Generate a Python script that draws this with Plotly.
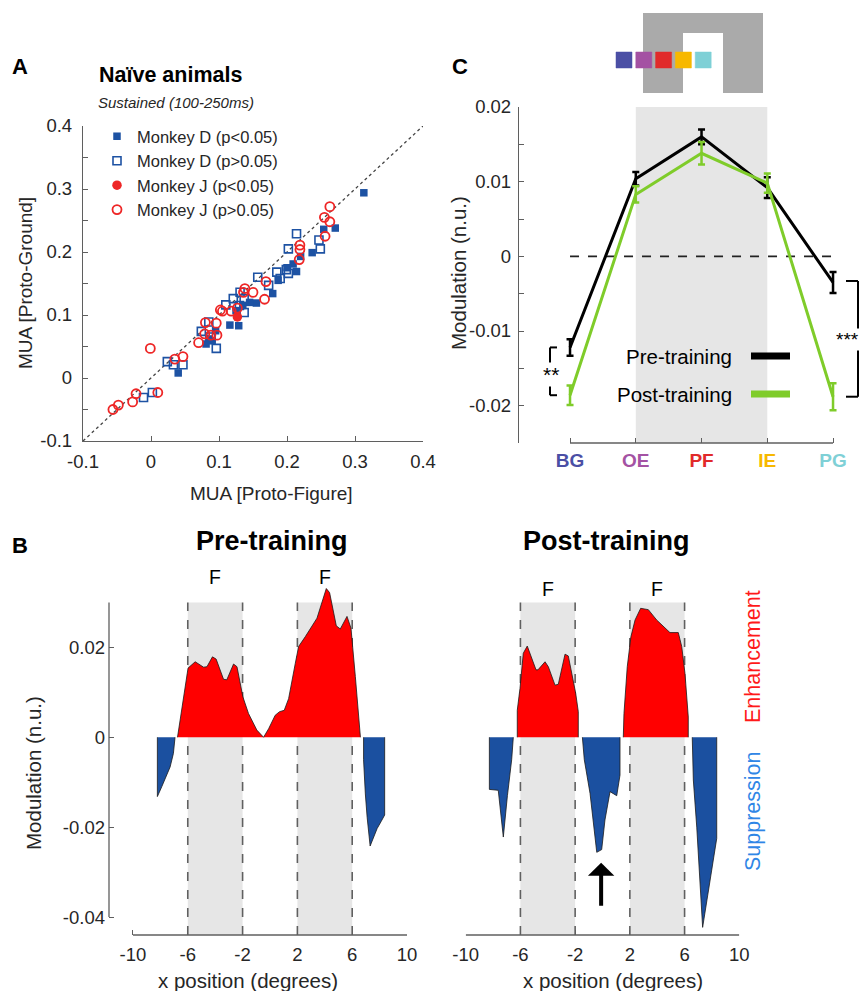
import plotly.graph_objects as go

# The page body has an 8px margin, so the figure is made smaller (no scrollbars)
# and all layout positions below (given in reference-image pixels) are shifted by it.
OFF = 8
W, H = 868 - 2 * OFF, 999 - 2 * OFF
FONT = "Arial, Liberation Sans, Helvetica, sans-serif"
TXT = "#262626"
AXC = "#5f5f5f"


def px(v):
    return (v - OFF) / W


def py(v):
    return 1 - (v - OFF) / H


# ---------------- Panel A : scatter ----------------
d_sig_x = [0.313, 0.254, 0.271, 0.237, 0.214, 0.209, 0.220, 0.200, 0.179, 0.187, 0.155, 0.145,
           0.135, 0.125, 0.116, 0.129, 0.081, 0.090, 0.095, 0.085, 0.040]
d_sig_y = [0.294, 0.236, 0.238, 0.199, 0.169, 0.181, 0.193, 0.175, 0.134, 0.155, 0.119, 0.120,
           0.115, 0.107, 0.084, 0.083, 0.054, 0.059, 0.075, 0.062, 0.008]
d_ns_x = [0.214, 0.247, 0.249, 0.202, 0.185, 0.199, 0.202, 0.190, 0.157, 0.173, 0.131, 0.121,
          0.110, 0.137, 0.130, 0.137, 0.074, 0.096, 0.085, 0.088, 0.024, 0.033, 0.047, -0.011, 0.002]
d_ns_y = [0.229, 0.219, 0.205, 0.205, 0.168, 0.172, 0.166, 0.158, 0.160, 0.147, 0.136, 0.126,
          0.116, 0.126, 0.115, 0.104, 0.074, 0.047, 0.089, 0.065, 0.026, 0.021, 0.021, -0.031, -0.023]
j_sig_x = [0.127]
j_sig_y = [0.097]
j_ns_x = [0.263, 0.255, 0.263, 0.256, 0.219, 0.219, 0.218, 0.169, 0.167, 0.150, 0.138, 0.136,
          0.127, 0.118, 0.102, 0.105, 0.080, 0.096, 0.079, 0.088, 0.097, 0.070, -0.001, 0.035,
          0.047, -0.022, 0.010, -0.027, -0.048, -0.056]
j_ns_y = [0.272, 0.255, 0.248, 0.225, 0.211, 0.204, 0.188, 0.153, 0.125, 0.136, 0.142, 0.136,
          0.111, 0.106, 0.108, 0.106, 0.088, 0.087, 0.070, 0.068, 0.068, 0.056, 0.047, 0.030,
          0.034, -0.025, -0.023, -0.038, -0.043, -0.050]
identity_line = [-0.1, 0.4]
a_ticks = [-0.1, 0, 0.1, 0.2, 0.3, 0.4]
a_ticktext = ["-0.1", "0", "0.1", "0.2", "0.3", "0.4"]

# ---------------- Panel C : modulation per position ----------------
positions = ["BG", "OE", "PF", "IE", "PG"]
position_idx = [1, 2, 3, 4, 5]
position_colors = ["#4b4fa5", "#a452a3", "#e12a2a", "#f7b800", "#7fd0d6"]
pre_mean = [-0.0122, 0.0104, 0.0160, 0.0092, -0.0035]
pre_err = [0.0011, 0.0009, 0.0010, 0.0014, 0.0014]
post_mean = [-0.0186, 0.0083, 0.0138, 0.0098, -0.0188]
post_err = [0.0013, 0.0011, 0.0015, 0.0013, 0.0018]
zero_line_x = [1, 5]
zero_line_y = [0, 0]
c_ticks = [-0.02, -0.01, 0, 0.01, 0.02]
c_ticktext = ["-0.02", "-0.01", "0", "0.01", "0.02"]

# ---------------- Panel B : modulation profiles ----------------
pre_enh_x = [-6.75, -6.64, -6.34, -5.98, -5.46, -4.85, -4.6, -4.2, -3.93, -3.39, -3.15, -2.66,
             -2.41, -1.98, -1.57, -0.96, -0.47, -0.1, 0.38, 0.7, 1.04, 1.36, 1.85, 2.09, 2.58,
             3.43, 4.11, 4.35, 4.84, 5.13, 5.62, 5.91, 6.23, 6.6]
pre_enh_y = [0, 0.0023, 0.0075, 0.0154, 0.0168, 0.0156, 0.0157, 0.0179, 0.0174, 0.0129, 0.0128,
             0.0163, 0.0157, 0.009, 0.0053, 0.0016, 0, 0.0019, 0.0049, 0.0057, 0.006, 0.0086,
             0.0165, 0.0202, 0.0224, 0.0265, 0.0331, 0.0322, 0.0248, 0.0241, 0.0269, 0.0243,
             0.0135, 0]
pre_sup1_x = [-8.22, -8.22, -7.9, -7.6, -7.29, -7.05, -6.93]
pre_sup1_y = [0, -0.0132, -0.011, -0.0088, -0.0066, -0.0036, 0]
pre_sup2_x = [6.83, 6.83, 6.96, 7.09, 7.31, 7.55, 7.82, 8.1, 8.37, 8.37]
pre_sup2_y = [0, -0.005, -0.0126, -0.0178, -0.0242, -0.0222, -0.0203, -0.0188, -0.0173, 0]

post_enh1_x = [-6.23, -6.23, -6.03, -5.79, -5.5, -4.86, -4.72, -4.2, -3.96, -3.47, -3.23, -2.74,
               -2.5, -1.96, -1.77, -1.77]
post_enh1_y = [0, 0.006, 0.0109, 0.0187, 0.0203, 0.015, 0.015, 0.0168, 0.0157, 0.0116, 0.0118,
               0.0185, 0.0181, 0.0098, 0.0057, 0]
post_enh2_x = [1.52, 1.57, 1.81, 2.08, 2.38, 2.79, 3.35, 3.96, 4.93, 5.54, 5.79, 6.03, 6.27, 6.27]
post_enh2_y = [0, 0.0053, 0.0157, 0.0224, 0.0261, 0.0287, 0.0284, 0.0261, 0.0233, 0.0233, 0.0202,
               0.0142, 0.0045, 0]
post_sup1_x = [-8.27, -8.27, -7.62, -7.25, -6.95, -6.64, -6.52]
post_sup1_y = [0, -0.0116, -0.0118, -0.0222, -0.013, -0.005, 0]
post_sup2_x = [-1.47, -1.33, -0.91, -0.42, -0.06, 0.18, 0.55, 1.04, 1.28, 1.28]
post_sup2_y = [0, -0.005, -0.0125, -0.0256, -0.025, -0.0184, -0.0121, -0.013, -0.0084, 0]
post_sup3_x = [6.56, 6.6, 6.64, 6.89, 7.32, 8.35, 8.35]
post_sup3_y = [0, -0.005, -0.0095, -0.02, -0.0423, -0.0225, 0]

figure_edges = [-6, -2, 2, 6]
figure_centers = [-4, 4]
b_xticks = [-10, -6, -2, 2, 6, 10]
b_xticktext = ["-10", "-6", "-2", "2", "6", "10"]
b_yticks = [-0.04, -0.02, 0, 0.02]
b_yticktext = ["-0.04", "-0.02", "0", "0.02"]
b_yrange = [-0.044, 0.035]
b_ytop = 0.03

RED = "#ff0000"
BLUE = "#1b50a0"
MRED = "#ee2626"
MBLUE = "#1d52a3"
GREEN = "#7fcc2a"

fig = go.Figure()

# ---- Panel A traces ----
fig.add_trace(go.Scatter(x=identity_line, y=identity_line, mode="lines",
                         line=dict(color="#444444", width=1.3, dash="dot"),
                         showlegend=False, hoverinfo="skip", xaxis="x", yaxis="y"))
fig.add_trace(go.Scatter(x=d_sig_x, y=d_sig_y, mode="markers", name="Monkey D (p<0.05)",
                         marker=dict(symbol="square", size=7.5, color=MBLUE),
                         xaxis="x", yaxis="y"))
fig.add_trace(go.Scatter(x=d_ns_x, y=d_ns_y, mode="markers", name="Monkey D (p>0.05)",
                         marker=dict(symbol="square-open", size=8, color=MBLUE,
                                     line=dict(width=1.6, color=MBLUE)),
                         xaxis="x", yaxis="y"))
fig.add_trace(go.Scatter(x=j_sig_x, y=j_sig_y, mode="markers", name="Monkey J (p<0.05)",
                         marker=dict(symbol="circle", size=9.5, color=MRED),
                         xaxis="x", yaxis="y"))
fig.add_trace(go.Scatter(x=j_ns_x, y=j_ns_y, mode="markers", name="Monkey J (p>0.05)",
                         marker=dict(symbol="circle-open", size=9, color=MRED,
                                     line=dict(width=1.8, color=MRED)),
                         xaxis="x", yaxis="y"))

# ---- Panel C traces ----
fig.add_trace(go.Scatter(x=zero_line_x, y=zero_line_y, mode="lines",
                         line=dict(color="#222222", width=1.6, dash="dash"),
                         showlegend=False, hoverinfo="skip", xaxis="x2", yaxis="y2"))
fig.add_trace(go.Scatter(x=position_idx, y=pre_mean, mode="lines", name="Pre-training",
                         line=dict(color="black", width=3),
                         error_y=dict(type="data", array=pre_err, color="black",
                                      thickness=2.5, width=3.5),
                         showlegend=False, xaxis="x2", yaxis="y2"))
fig.add_trace(go.Scatter(x=position_idx, y=post_mean, mode="lines", name="Post-training",
                         line=dict(color=GREEN, width=3),
                         error_y=dict(type="data", array=post_err, color=GREEN,
                                      thickness=2.5, width=3.5),
                         showlegend=False, xaxis="x2", yaxis="y2"))


# ---- Panel B traces ----
def area(xs, ys, color, xa, ya):
    fig.add_trace(go.Scatter(x=xs, y=ys, mode="lines", fill="toself", fillcolor=color,
                             line=dict(color="#1a1a1a", width=0.8), showlegend=False,
                             hoverinfo="skip", xaxis=xa, yaxis=ya))


area(pre_enh_x, pre_enh_y, RED, "x3", "y3")
area(pre_sup1_x, pre_sup1_y, BLUE, "x3", "y3")
area(pre_sup2_x, pre_sup2_y, BLUE, "x3", "y3")
area(post_enh1_x, post_enh1_y, RED, "x4", "y4")
area(post_enh2_x, post_enh2_y, RED, "x4", "y4")
area(post_sup1_x, post_sup1_y, BLUE, "x4", "y4")
area(post_sup2_x, post_sup2_y, BLUE, "x4", "y4")
area(post_sup3_x, post_sup3_y, BLUE, "x4", "y4")

# ---------------- Shapes ----------------
shapes = []
# Panel C shaded figure region and x axis line
shapes.append(dict(type="rect", xref="x2", yref="y2 domain", x0=position_idx[1], x1=position_idx[3],
                   y0=0, y1=1, fillcolor="#e6e6e6", line=dict(width=0), layer="below"))
shapes.append(dict(type="line", xref="x2", yref="y2 domain", x0=position_idx[0], x1=position_idx[-1],
                   y0=0, y1=0, line=dict(color=AXC, width=1.3)))
# significance brackets (y from data)
for xl, xr, ya, yb in [(px(550), px(557), pre_mean[0], post_mean[0]),
                       (px(858), px(846), pre_mean[-1] + 0.0002, post_mean[-1])]:
    shapes.append(dict(type="line", xref="paper", yref="y2", x0=xl, x1=xl, y0=ya, y1=yb,
                       line=dict(color="black", width=2)))
    shapes.append(dict(type="line", xref="paper", yref="y2", x0=xl, x1=xr, y0=ya, y1=ya,
                       line=dict(color="black", width=2)))
    shapes.append(dict(type="line", xref="paper", yref="y2", x0=xl, x1=xr, y0=yb, y1=yb,
                       line=dict(color="black", width=2)))
# Panel C legend glyphs
for yy, col in [(356, "black"), (394, GREEN)]:
    shapes.append(dict(type="line", xref="paper", yref="paper", x0=px(751), x1=px(790),
                       y0=py(yy), y1=py(yy), line=dict(color=col, width=7)))
# Panel C icon
GRAY = "#aaaaaa"
shapes.append(dict(type="rect", xref="paper", yref="paper", x0=px(643), x1=px(683), y0=py(93), y1=py(13),
                   fillcolor=GRAY, line=dict(width=0)))
shapes.append(dict(type="rect", xref="paper", yref="paper", x0=px(723), x1=px(763), y0=py(93), y1=py(13),
                   fillcolor=GRAY, line=dict(width=0)))
shapes.append(dict(type="rect", xref="paper", yref="paper", x0=px(682), x1=px(724), y0=py(33), y1=py(13),
                   fillcolor=GRAY, line=dict(width=0)))
for i, col in enumerate(position_colors):
    x0 = 616 + i * 19.8
    shapes.append(dict(type="rect", xref="paper", yref="paper", x0=px(x0), x1=px(x0 + 16),
                       y0=py(68), y1=py(52), fillcolor=col, line=dict(width=0.5, color=col)))

# Panel B shaded figures and dashed borders
for xa, ya in [("x3", "y3"), ("x4", "y4")]:
    for k in range(0, len(figure_edges), 2):
        shapes.append(dict(type="rect", xref=xa, yref=ya, x0=figure_edges[k], x1=figure_edges[k + 1],
                           y0=b_yrange[0], y1=b_ytop, fillcolor="#e6e6e6", line=dict(width=0),
                           layer="below"))
    for e in figure_edges:
        shapes.append(dict(type="line", xref=xa, yref=ya, x0=e, x1=e, y0=b_yrange[0], y1=b_ytop,
                           line=dict(color="#606060", width=1.6, dash="dash"), layer="below"))
    shapes.append(dict(type="line", xref=xa, yref=ya + " domain", x0=b_xticks[0], x1=b_xticks[-1],
                       y0=0, y1=0, line=dict(color=AXC, width=1.3)))
shapes.append(dict(type="line", xref="x3 domain", yref="y3", x0=0, x1=0, y0=b_yticks[0], y1=b_ytop,
                   line=dict(color=AXC, width=1.3)))

# ---------------- Annotations ----------------
ann = []


def txt(x, y, s, size, color=TXT, bold=False, italic=False, xanchor="center", angle=0, **kw):
    if bold:
        s = "<b>" + s + "</b>"
    if italic:
        s = "<i>" + s + "</i>"
    ann.append(dict(x=px(x), y=py(y), xref="paper", yref="paper", text=s, showarrow=False,
                    font=dict(family=FONT, size=size, color=color), xanchor=xanchor,
                    yanchor="middle", textangle=angle, **kw))


txt(20, 66, "A", 22, color="black", bold=True)
txt(97, 75, "Naïve animals", 21.5, color="black", bold=True, xanchor="left")
txt(96, 102, "Sustained (100-250ms)", 15, color=TXT, italic=True, xanchor="left")
txt(271, 493, "MUA [Proto-Figure]", 19)
txt(25, 283, "MUA [Proto-Ground]", 19, angle=-90)

txt(460, 66, "C", 22, color="black", bold=True)
txt(458, 273, "Modulation (n.u.)", 20.5, angle=-90)
txt(734, 356, "Pre-training", 20.5, color="black", xanchor="right")
txt(734, 394, "Post-training", 20.5, color="black", xanchor="right")
txt(551, 374, "**", 21, color="black", bgcolor="white", borderpad=0)
txt(860, 340, "***", 19, color="black", xanchor="right", bgcolor="white", borderpad=0)

txt(20, 545, "B", 22, color="black", bold=True)
txt(272, 541, "Pre-training", 27, color="black", bold=True)
txt(606, 541, "Post-training", 27, color="black", bold=True)
txt(33, 773, "Modulation (n.u.)", 20.5, angle=-90)
txt(248, 980, "x position (degrees)", 20.5)
txt(613, 980, "x position (degrees)", 20.5)
txt(753, 657, "Enhancement", 21.5, color="#ff1a1a", angle=-90)
txt(753, 811, "Suppression", 21.5, color="#2f86e6", angle=-90)

for c in figure_centers:
    ann.append(dict(x=c, y=py(577), xref="x3", yref="paper", text="F", showarrow=False,
                    font=dict(family=FONT, size=19.5, color="black")))
    ann.append(dict(x=c, y=py(589), xref="x4", yref="paper", text="F", showarrow=False,
                    font=dict(family=FONT, size=19.5, color="black")))

# arrow pointing at the new suppression between figures
ann.append(dict(x=-0.1, y=-0.0279, xref="x4", yref="y4", ax=-0.1, ay=-0.0378, axref="x4", ayref="y4",
                showarrow=True, arrowhead=1, arrowsize=1.1, arrowwidth=4, arrowcolor="black",
                text=""))

tickfont = dict(family=FONT, size=18.5, color=TXT)
common = dict(showgrid=False, zeroline=False, ticks="inside", ticklen=5, tickwidth=1.2,
              tickcolor=AXC, tickfont=tickfont, linecolor=AXC, linewidth=1.3, automargin=False)

fig.update_layout(
    template="none",
    width=W, height=H, autosize=False, margin=dict(l=0, r=0, t=0, b=0, pad=0),
    paper_bgcolor="white", plot_bgcolor="rgba(0,0,0,0)",
    font=dict(family=FONT, color=TXT),
    shapes=shapes, annotations=ann,
    legend=dict(x=px(97), y=py(119), xanchor="left", yanchor="top",
                font=dict(family=FONT, size=16.5, color=TXT), bgcolor="rgba(0,0,0,0)",
                itemwidth=30, tracegroupgap=0),
    xaxis=dict(domain=[px(83), px(423)], range=[-0.1, 0.4], anchor="y", showline=True,
               tickvals=a_ticks, ticktext=a_ticktext, ticklabelstandoff=4, **common),
    yaxis=dict(domain=[py(441), py(126)], range=[-0.1, 0.4], anchor="x", showline=True,
               tickvals=a_ticks, ticktext=a_ticktext, ticklabelstandoff=6,
               minor=dict(dtick=0.05, tick0=0, ticks="inside", ticklen=5, tickcolor=AXC), **common),
    xaxis2=dict(domain=[px(519), px(840)], range=[0.224, 5.106], anchor="y2", showline=False,
                tickvals=position_idx,
                ticktext=[f"<b><span style='color:{c}'>{t}</span></b>" for t, c in zip(positions, position_colors)],
                ticklabelstandoff=4, **{**common, "tickfont": dict(family=FONT, size=19)}),
    yaxis2=dict(domain=[py(443), py(107)], range=[-0.025, 0.02], anchor="x2", showline=True,
                tickvals=c_ticks, ticktext=c_ticktext, ticklabelstandoff=3,
                minor=dict(dtick=0.005, tick0=0, ticks="inside", ticklen=5, tickcolor=AXC), **common),
    xaxis3=dict(domain=[px(109), px(407)], range=[-11.75, 10], anchor="y3", showline=False,
                tickvals=b_xticks, ticktext=b_xticktext, ticklabelstandoff=6, **common),
    yaxis3=dict(domain=[py(935), py(580)], range=b_yrange, anchor="x3", showline=False,
                tickvals=b_yticks, ticktext=b_yticktext, ticklabelstandoff=3, **common),
    xaxis4=dict(domain=[px(465.7), px(739.3)], range=[-10, 10], anchor="y4", showline=False,
                tickvals=b_xticks, ticktext=b_xticktext, ticklabelstandoff=6, **common),
    yaxis4=dict(domain=[py(935), py(580)], range=b_yrange, anchor="x4", visible=False),
)

fig.write_html("out.html")
